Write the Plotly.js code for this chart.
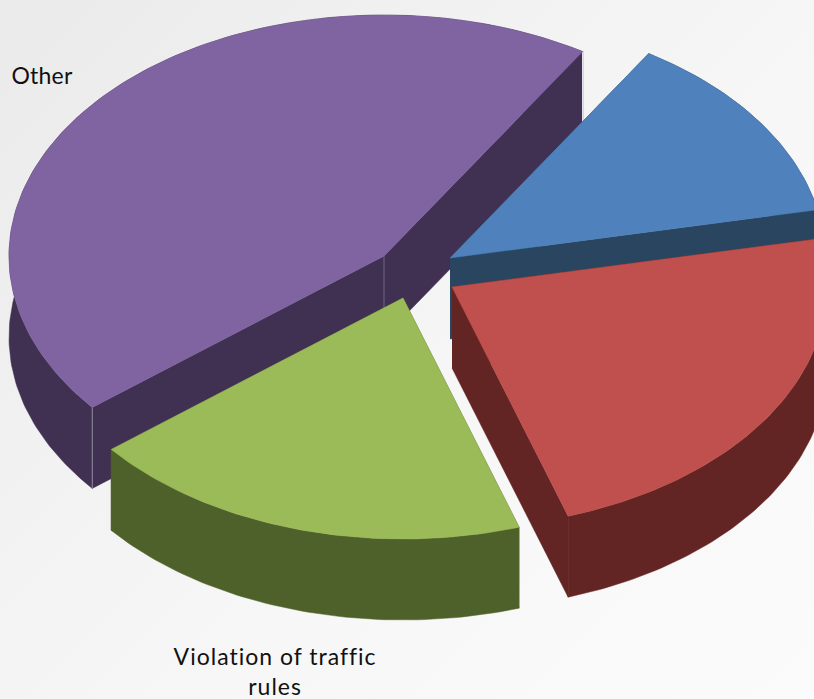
<!DOCTYPE html>
<html><head><meta charset="utf-8">
<script src="https://cdn.plot.ly/plotly-3.0.1.min.js"></script>
<style>
html,body{margin:0;padding:0;width:814px;height:699px;overflow:hidden;background:linear-gradient(135deg,#eaeaea 0%,#f2f2f2 35%,#f7f7f7 60%,#fbfbfb 100%);}
#chart{width:814px;height:699px;}
.annotation[data-index="0"] .annotation-text{letter-spacing:1px;}
.annotation[data-index="1"] .annotation-text{letter-spacing:0.2px;}
</style></head><body><div id="chart"></div>
<script>
// Data, clockwise from the start angle
const categories = ["", "", "Violation of traffic<br>rules", "Other"];
const shares = [12.9, 23.2, 19.2, 44.7];
const topColors = ["#4f81bd", "#c0504d", "#9bbb59", "#8064a2"];
const wallColors = ["#2a4560", "#632523", "#4f612a", "#403152"];
const centreX = [450, 452, 403, 384];
const centreY = [258, 287, 298, 256];
const drawOrder = [3, 0, 2, 1];

const startAngle = 58, rx = 375, ry = 241, depth = 81;
const total = shares.reduce((a, b) => a + b, 0);
let running = startAngle;
const spans = shares.map(s => { const a = running, b = running - s / total * 360; running = b; return [a, b]; });

function arc(i, dy) {
  const [a, b] = spans[i], xs = [], ys = [], n = Math.ceil(a - b);
  for (let k = 0; k <= n; k++) {
    const t = (a + (b - a) * k / n) * Math.PI / 180;
    xs.push(centreX[i] + rx * Math.cos(t));
    ys.push(centreY[i] - ry * Math.sin(t) + dy);
  }
  return [xs, ys];
}
function poly(x, y, color) {
  return {type: "scatter", mode: "lines", x, y, fill: "toself", fillcolor: color,
    line: {color, width: 0.5}, hoverinfo: "skip", showlegend: false};
}
function edge(x, y, color, width) {
  return {type: "scatter", mode: "lines", x, y, line: {color, width}, hoverinfo: "skip", showlegend: false};
}
const traces = [];
drawOrder.forEach(i => {
  const [xt, yt] = arc(i, 0), [xb, yb] = arc(i, depth);
  const cx = centreX[i], cy = centreY[i], last = xt.length - 1;
  traces.push(poly([...xt, ...xb.slice().reverse()], [...yt, ...yb.slice().reverse()], wallColors[i]));
  traces.push(poly([cx, xt[0], xb[0], cx], [cy, yt[0], yb[0], cy + depth], wallColors[i]));
  traces.push(poly([cx, xt[last], xb[last], cx], [cy, yt[last], yb[last], cy + depth], wallColors[i]));
  if (i === 3) {
    traces.push(edge([cx, cx], [cy, cy + depth], "#6d6680", 1));
    traces.push(edge([xt[last], xb[last]], [yt[last], yb[last]], "#e4e2ea", 1.5));
    traces.push(edge([xt[0], xb[0]], [yt[0], yb[0]], "#8f88a0", 1));
  }
  traces.push(poly([cx, ...xt, cx], [cy, ...yt, cy], topColors[i]));
});

const labelPos = [null, null, [275, 671], [42, 75]];
const annotations = [];
categories.forEach((c, i) => {
  if (c) annotations.push({x: labelPos[i][0], y: labelPos[i][1], xref: "x", yref: "y", text: c,
    showarrow: false, align: "center", font: {family: "Lato", size: 23, color: "#111111"}});
});
Plotly.newPlot("chart", traces, {
  width: 814, height: 699, margin: {l: 0, r: 0, t: 0, b: 0},
  paper_bgcolor: "rgba(0,0,0,0)", plot_bgcolor: "rgba(0,0,0,0)", showlegend: false,
  xaxis: {range: [0, 814], visible: false, fixedrange: true},
  yaxis: {range: [699, 0], visible: false, fixedrange: true},
  annotations
}, {displayModeBar: false, staticPlot: true});
</script></body></html>
